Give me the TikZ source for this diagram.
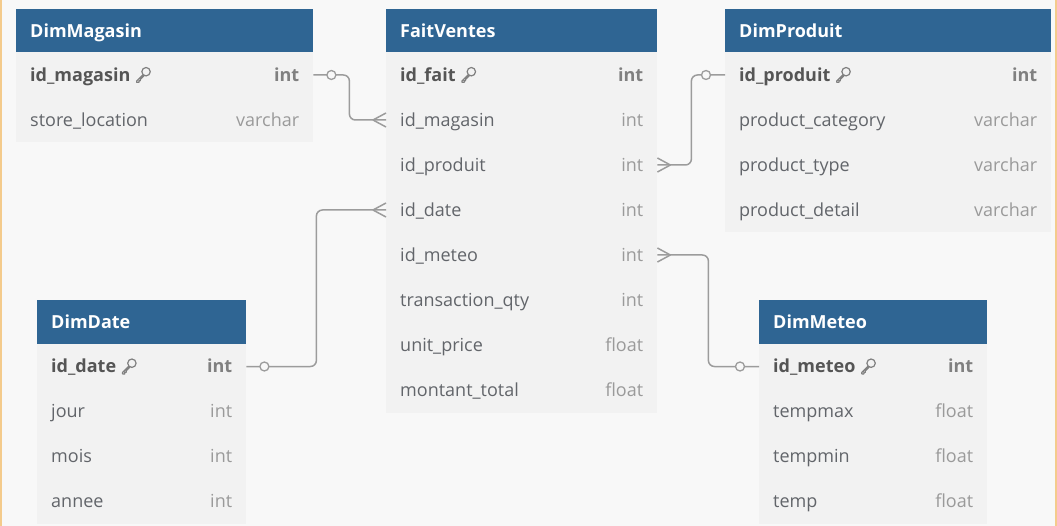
\documentclass[tikz,border=0pt]{standalone}
\usepackage{fontspec}
\setmainfont{Open Sans}
\usetikzlibrary{calc}
\definecolor{bg}{HTML}{F8F8F8}
\definecolor{hdr}{HTML}{2F6593}
\definecolor{bodyc}{HTML}{F2F2F2}
\definecolor{fld}{HTML}{62656A}
\definecolor{typ}{HTML}{9A9A9A}
\definecolor{keyc}{HTML}{555555}
\definecolor{keyt}{HTML}{808080}
\definecolor{conn}{HTML}{9C9C9C}
\definecolor{edgec}{HTML}{F4CB8C}
\newcommand\erfont{\fontsize{18}{21}\selectfont}
\tikzset{
  hdrbox/.style={fill=hdr, draw=none, minimum height=44pt, inner sep=0pt, anchor=north west},
  hdrtxt/.style={text=white, font=\erfont\bfseries, anchor=base west, inner sep=0pt},
  rowbox/.style={fill=bodyc, draw=none, minimum height=45pt, inner sep=0pt, anchor=west},
  fldtxt/.style={text=fld, font=\erfont, anchor=base west, inner sep=0pt},
  typtxt/.style={text=typ, font=\erfont, anchor=base east, inner sep=0pt},
  keytxt/.style={text=keyc, font=\erfont\bfseries, anchor=base west, inner sep=0pt},
  keytyp/.style={text=keyt, font=\erfont\bfseries, anchor=base east, inner sep=0pt},
  link/.style={draw=conn, line width=1.5pt, rounded corners=6pt},
  prong/.style={draw=conn, line width=1.5pt},
  onecirc/.style={circle, draw=conn, fill=bg, line width=1.3pt, minimum size=9pt, inner sep=0pt},
  keyicon/.pic={
    \draw[draw=keyt, line width=1.2pt] (10.5,-3.3) circle (4.2);
    \draw[draw=keyt, line width=1.2pt, line cap=round, line join=round]
      (7.4,-0.3) -- (1.2,5.9) -- (1.2,7.4) -- (3.4,7.4) -- (3.4,5.8) -- (4.8,5.8) -- (4.8,4.4) -- (8.6,0.6);
  }
}
\newcommand\erHead[5]{%
  \node[hdrbox, minimum width=#4] (#1) at (#2,#3) {};
  \node[hdrtxt] (#1t) at ($(#1.west)+(14,6)$) {#5};
}
\newcommand\erRow[6]{%
  \node[rowbox, minimum width=#4] (#1) at (#2,#3) {};
  \node[fldtxt] (#1f) at ($(#1.west)+(14,6.3)$) {#5};
  \node[typtxt] (#1t) at ($(#1.east)+(-14,6.3)$) {#6};
}
\newcommand\erKey[6]{%
  \node[rowbox, minimum width=#4] (#1) at (#2,#3) {};
  \node[keytxt] (#1f) at ($(#1.west)+(14,6.3)$) {#5};
  \pic at ($(#1f.base east)+(5,-6.3)$) {keyicon};
  \node[keytyp] (#1t) at ($(#1.east)+(-14,6.3)$) {#6};
}
\begin{document}
\begin{tikzpicture}[x=1pt,y=-1pt]
\fill[bg] (0,0) rectangle (1057,526);
\useasboundingbox (0,0) rectangle (1057,526);
\draw[edgec, line width=2pt] (1,0) -- (1,526);
\draw[edgec, line width=2pt] (1056,0) -- (1056,526);

% DimMagasin
\erHead{mag}{16}{9}{297}{DimMagasin}
\erKey{mag1}{16}{75}{297}{id\_magasin}{int}
\erRow{mag2}{16}{120}{297}{store\_location}{varchar}

% FaitVentes
\erHead{fv}{386}{9}{271}{FaitVentes}
\erKey{fv1}{386}{75}{271}{id\_fait}{int}
\erRow{fv2}{386}{120}{271}{id\_magasin}{int}
\erRow{fv3}{386}{165}{271}{id\_produit}{int}
\erRow{fv4}{386}{210}{271}{id\_date}{int}
\erRow{fv5}{386}{255}{271}{id\_meteo}{int}
\erRow{fv6}{386}{300}{271}{transaction\_qty}{int}
\erRow{fv7}{386}{345}{271}{unit\_price}{float}
\erRow{fv8}{386}{390}{271}{montant\_total}{float}

% DimProduit
\erHead{prod}{725}{9}{326}{DimProduit}
\erKey{prod1}{725}{75}{326}{id\_produit}{int}
\erRow{prod2}{725}{120}{326}{product\_category}{varchar}
\erRow{prod3}{725}{165}{326}{product\_type}{varchar}
\erRow{prod4}{725}{210}{326}{product\_detail}{varchar}

% DimDate
\erHead{date}{37}{300}{209}{DimDate}
\erKey{date1}{37}{366.5}{209}{id\_date}{int}
\erRow{date2}{37}{411.5}{209}{jour}{int}
\erRow{date3}{37}{456.5}{209}{mois}{int}
\erRow{date4}{37}{501.5}{209}{annee}{int}

% DimMeteo
\erHead{met}{759}{300}{228}{DimMeteo}
\erKey{met1}{759}{366.5}{228}{id\_meteo}{int}
\erRow{met2}{759}{411.5}{228}{tempmax}{float}
\erRow{met3}{759}{456.5}{228}{tempmin}{float}
\erRow{met4}{759}{501.5}{228}{temp}{float}

% connectors
\draw[link] (mag1.east) -- ++(36,0) |- (fv2.west);
\draw[prong] ([xshift=-13pt]fv2.west) -- ([yshift=7pt]fv2.west);
\draw[prong] ([xshift=-13pt]fv2.west) -- ([yshift=-7pt]fv2.west);
\node[onecirc] at ([xshift=18pt]mag1.east) {};

\draw[link] (fv3.east) -- ++(34,0) |- (prod1.west);
\draw[prong] ([xshift=13pt]fv3.east) -- ([yshift=7pt]fv3.east);
\draw[prong] ([xshift=13pt]fv3.east) -- ([yshift=-7pt]fv3.east);
\node[onecirc] at ([xshift=-19pt]prod1.west) {};

\draw[link] (date1.east) -- ++(70,0) |- (fv4.west);
\draw[prong] ([xshift=-13pt]fv4.west) -- ([yshift=7pt]fv4.west);
\draw[prong] ([xshift=-13pt]fv4.west) -- ([yshift=-7pt]fv4.west);
\node[onecirc] at ([xshift=18pt]date1.east) {};

\draw[link] (fv5.east) -- ++(51,0) |- (met1.west);
\draw[prong] ([xshift=13pt]fv5.east) -- ([yshift=7pt]fv5.east);
\draw[prong] ([xshift=13pt]fv5.east) -- ([yshift=-7pt]fv5.east);
\node[onecirc] at ([xshift=-19pt]met1.west) {};
\end{tikzpicture}
\end{document}
